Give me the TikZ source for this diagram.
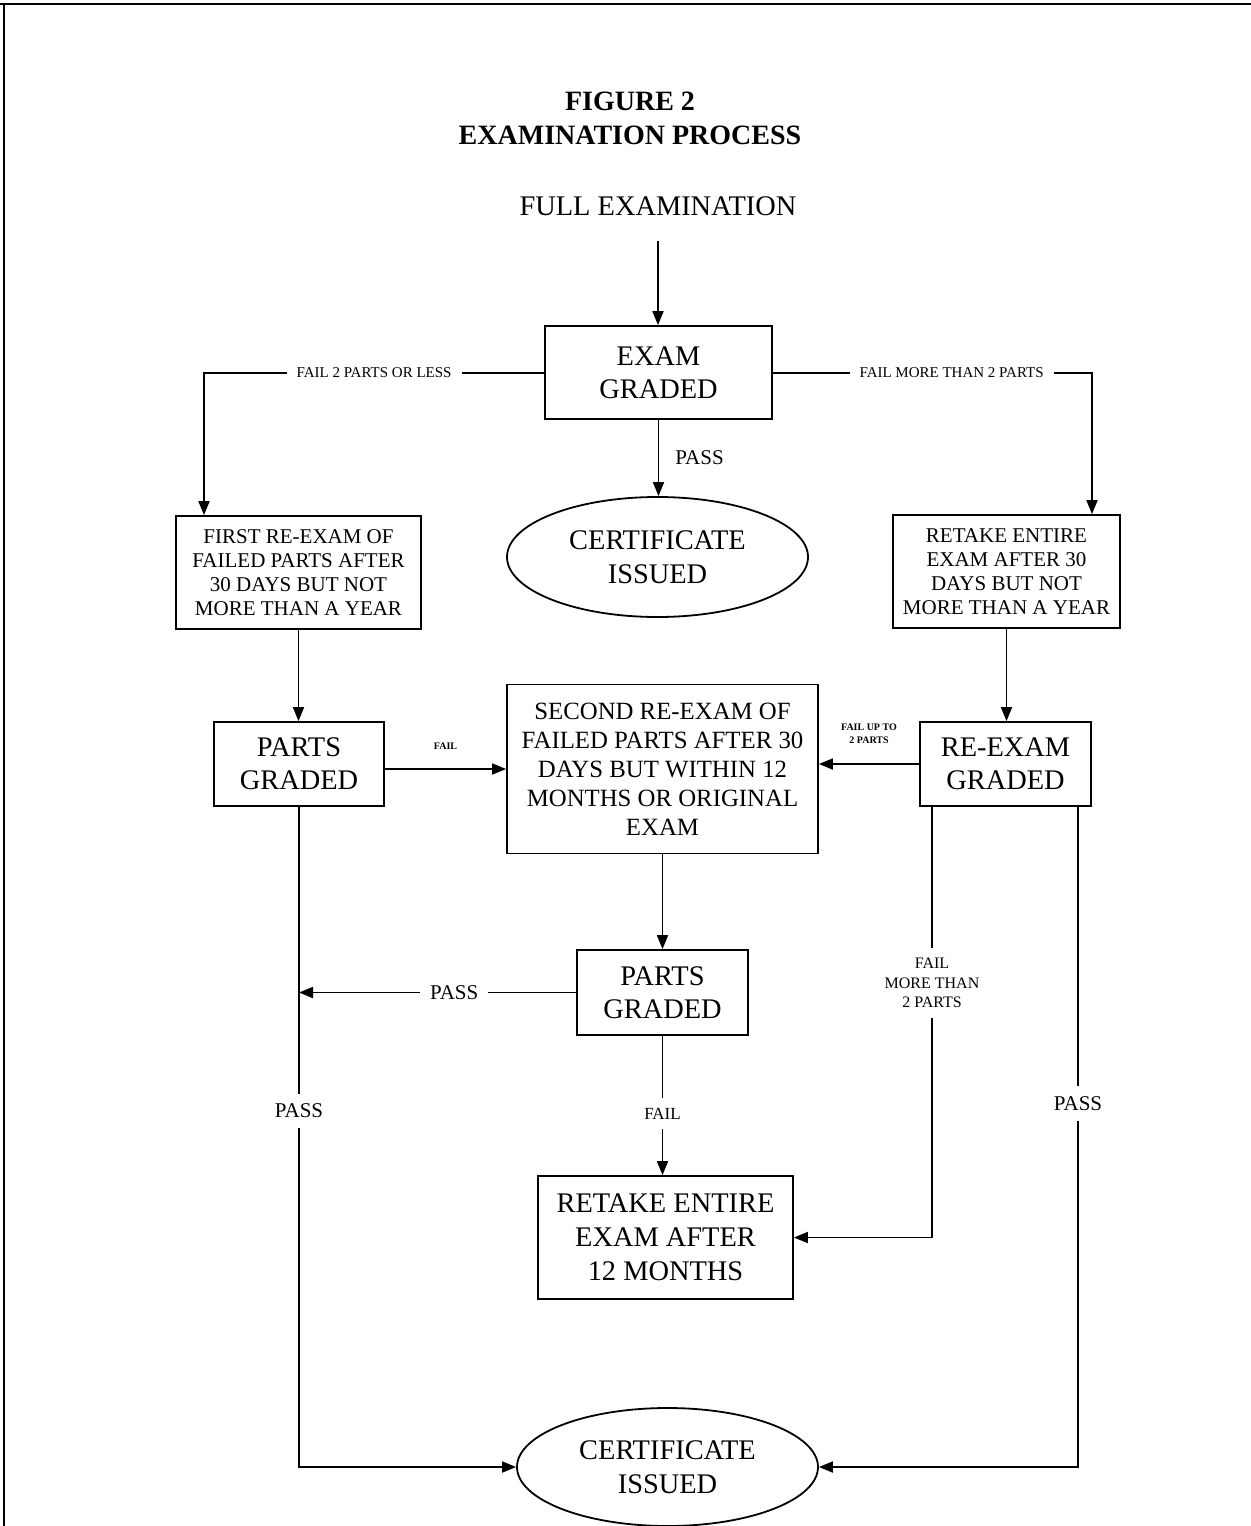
\documentclass[tikz,border=0pt]{standalone}
\usepackage{fontspec}
\setmainfont{Liberation Serif}
\usetikzlibrary{positioning,shapes.geometric,arrows.meta}

\begin{document}
\begin{tikzpicture}[x=0.5pt, y=-0.5pt, line width=0.9pt, >={Triangle[length=7pt,width=5.5pt]},
  box/.style={draw, inner sep=0pt, align=center, font=\fontsize{14.2}{16.5}\selectfont},
  smallbox/.style={box, font=\fontsize{10.5}{12}\selectfont},
  oval/.style={draw, ellipse, inner sep=0pt, align=center, minimum width=150.5pt, minimum height=60pt, font=\fontsize{14.2}{17}\selectfont},
  lbl/.style={fill=white, inner sep=5pt, align=center, font=\fontsize{7.5}{9}\selectfont},
  passlbl/.style={lbl, font=\fontsize{10.5}{12}\selectfont},
  tinylbl/.style={inner sep=0pt, align=center, font=\bfseries\fontsize{5}{6.5}\selectfont}]
\useasboundingbox (0,0) rectangle (1251,1526);
\draw[line width=1pt] (0,4) -- (1251,4);
\draw[line width=1pt] (4,4) -- (4,1526);
%Title
\node[align=center, font=\bfseries\fontsize{14}{17}\selectfont] (title) at (630,118) {FIGURE 2\\EXAMINATION PROCESS};
\node[minimum height=34pt, inner sep=0pt, font=\fontsize{14.2}{17}\selectfont] (full) at (658,206) {FULL EXAMINATION};
%Row 1
\node[box, minimum width=113.5pt, minimum height=46.5pt] (graded) at (658.5,372.5) {EXAM\\GRADED};
\node[oval] (cert1) at (657.5,557) {CERTIFICATE\\ISSUED};
\node[smallbox, minimum width=122.5pt, minimum height=56.5pt] (first) at (298.5,572.5) {FIRST RE-EXAM OF\\FAILED PARTS AFTER\\30 DAYS BUT NOT\\MORE THAN A YEAR};
\node[smallbox, minimum width=113.5pt, minimum height=56.5pt] (retake1) at (1006.5,571.5) {RETAKE ENTIRE\\EXAM AFTER 30\\DAYS BUT NOT\\MORE THAN A YEAR};
%Row 2
\node[box, minimum width=85pt, minimum height=42pt] (parts1) at (299,764) {PARTS\\GRADED};
\node[box, minimum width=85.5pt, minimum height=42pt] (reexam) at (1005.5,764) {RE-EXAM\\GRADED};
\node[box, minimum width=155.5pt, minimum height=84.5pt, font=\fontsize{12.4}{14.5}\selectfont] (second) at (662.5,769) {SECOND RE-EXAM OF\\FAILED PARTS AFTER 30\\DAYS BUT WITHIN 12\\MONTHS OR ORIGINAL\\EXAM};
%Row 3
\node[box, minimum width=85.5pt, minimum height=42.5pt] (parts2) at (662.5,992.5) {PARTS\\GRADED};
\node[box, minimum width=127.5pt, minimum height=61.5pt, font=\fontsize{14.2}{17}\selectfont] (retake2) at (665.5,1237.5) {RETAKE ENTIRE\\EXAM AFTER\\12 MONTHS};
\node[oval, minimum height=59pt] (cert2) at (667.5,1467) {CERTIFICATE\\ISSUED};
%Connectors
\coordinate (gl) at (204,373);
\coordinate (gr) at (1092,373);
\coordinate (rl) at (932,806);
\coordinate (rr) at (1078,806);
\draw[->] (full.south) -- (full.south |- graded.north);
\draw[->] (graded.west |- gl) -- node[lbl]{FAIL 2 PARTS OR LESS} (gl) -- (first.north -| gl);
\draw[->] (graded.east |- gr) -- node[lbl, pos=0.56]{FAIL MORE THAN 2 PARTS} (gr) -- (retake1.north -| gr);
\draw[->] (graded.south) -- node[right=8pt, inner sep=0pt, font=\fontsize{10.5}{12}\selectfont]{PASS} (graded.south |- cert1.north);
\draw[->] (first.south) -- (first.south |- parts1.north);
\draw[->] (retake1.south) -- (retake1.south |- reexam.north);
\draw[->] (parts1.east |- second.west) -- node[tinylbl, above=9.5pt]{FAIL} (second.west);
\draw[->] (reexam.west) -- node[tinylbl, above=10pt]{FAIL UP TO\\2 PARTS} (reexam.west -| second.east);
\draw[->] (second.south) -- (parts2.north);
\draw[->] (parts2.west) -- node[passlbl, pos=0.44]{PASS} (parts2.west -| parts1.south);
\draw[->] (parts2.south) -- node[lbl, pos=0.56, font=\fontsize{8.5}{10}\selectfont]{FAIL} (parts2.south |- retake2.north);
\draw[->] (rl) -- node[lbl, pos=0.41, font=\fontsize{8}{9.75}\selectfont]{FAIL\\MORE THAN\\2 PARTS} (rl |- retake2.east) -- (retake2.east);
\draw[->] (rr) -- node[passlbl, pos=0.45]{PASS} (rr |- cert2.east) -- (cert2.east);
\draw[->] (parts1.south) -- node[passlbl, pos=0.46]{PASS} (parts1.south |- cert2.west) -- (cert2.west);
\end{tikzpicture}
\end{document}
